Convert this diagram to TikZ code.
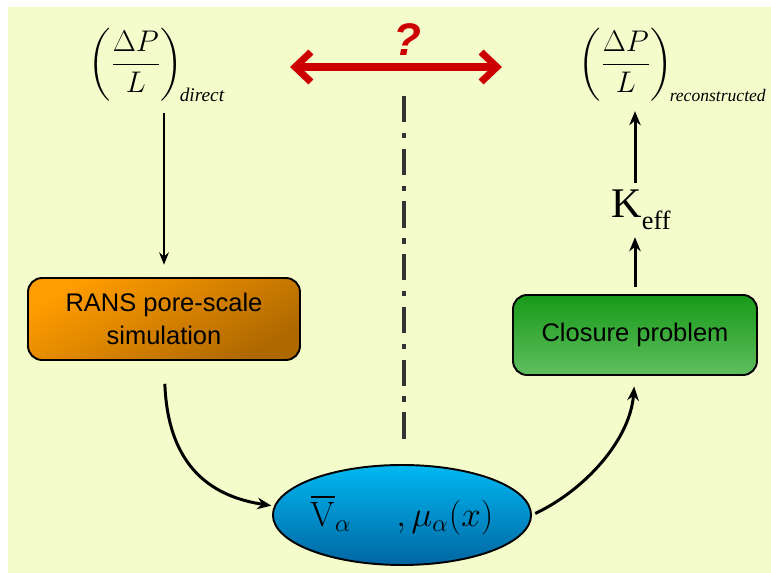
\RequirePackage{fix-cm}
\documentclass[tikz,border=0pt]{standalone}
\usepackage{amsmath}
\usepackage{fontspec}
\setsansfont{Liberation Sans}
\newfontfamily\timesfont{Liberation Serif}
\usetikzlibrary{positioning,shapes.geometric,arrows.meta}

\definecolor{paper}{HTML}{F4FCCC}
\definecolor{ransTop}{HTML}{FF9C00}
\definecolor{ransBot}{HTML}{AE6800}
\definecolor{closTop}{HTML}{179A17}
\definecolor{closBot}{HTML}{60BE60}
\definecolor{flowTop}{HTML}{00B8F2}
\definecolor{flowBot}{HTML}{0066A2}
\definecolor{qred}{HTML}{CC0000}
\definecolor{axisgray}{HTML}{333333}

\tikzset{
  stepbox/.style={draw=black, line width=1.1pt, rounded corners=8pt, inner sep=0pt,
    font=\sffamily\fontsize{14.5}{18.5}\selectfont, align=center},
  flowarrow/.style={-{Stealth[length=8pt,width=6.5pt]}, line width=1.7pt},
  thinarrow/.style={-{Stealth[length=7pt,width=5.5pt]}, line width=1.2pt},
}

\begin{document}
\begin{tikzpicture}[x=0.02cm, y=-0.02cm]
  \useasboundingbox (0,0) rectangle (771,573);
  \fill[paper] (8,7) rectangle (771,573);

  % pressure drop, direct and reconstructed
  \node[anchor=west, inner sep=0pt] (dpdirect) at (88,65)
    {\fontsize{17}{17}\selectfont$\left(\dfrac{\Delta P}{L}\right)_{\!\mbox{\fontsize{11}{11}\selectfont\timesfont\itshape direct}}$};
  \node[anchor=west, inner sep=0pt] (dprecon) at (578,65)
    {\fontsize{17}{17}\selectfont$\left(\dfrac{\Delta P}{L}\right)_{\!\mbox{\fontsize{10}{10}\selectfont\timesfont\itshape reconstructed}}$};

  % comparison
  \node[text=qred, font=\sffamily\bfseries\itshape\fontsize{26}{26}\selectfont] (qmark) at (407,40) {?};
  \coordinate (qleft)  at (290,67);
  \coordinate (qright) at (502,67);
  \draw[qred, line width=4pt, {Straight Barb[length=9pt,width=17pt]}-{Straight Barb[length=9pt,width=17pt]}]
    (qleft) -- (qright);
  \coordinate (axtop) at (404,96);
  \coordinate (axbot) at (404,440);
  \draw[axisgray, line width=2.8pt, dash pattern=on 15pt off 6pt on 3pt off 6pt] (axtop) -- (axbot);

  % boxes
  \node[stepbox, top color=ransTop, bottom color=ransBot, shading angle=30,
        minimum width=5.44cm, minimum height=1.64cm] (rans) at (164,319)
    {RANS pore-scale\\simulation};
  \node[stepbox, top color=closTop, bottom color=closBot,
        minimum width=4.88cm, minimum height=1.6cm] (closure) at (635,335)
    {Closure problem};
  \node[ellipse, draw=black, line width=1.1pt, top color=flowTop, bottom color=flowBot,
        minimum width=4.98cm, minimum height=2cm, inner sep=0pt] (flow) at (402,515)
    {\fontsize{20}{20}\selectfont$\overline{\mathrm{V}}_{\alpha}\quad\;{,}\,\mu_{\alpha}(x)$};
  \node[inner sep=0pt] (keff) at (641,210)
    {\timesfont\fontsize{24}{24}\selectfont K\raisebox{-0.28em}{\fontsize{15}{15}\selectfont eff}};

  % connectors
  \draw[thinarrow, shorten <=6pt, shorten >=7pt] (dpdirect.south -| rans.north) -- (rans.north);
  \draw[flowarrow, shorten <=13pt, shorten >=1.5pt] (rans.south)
    .. controls (168,470) and (215,497) .. (flow.176);
  \draw[flowarrow, shorten <=2pt, shorten >=6pt] (flow.east)
    .. controls (585,490) and (630,440) .. (closure.south);
  \draw[flowarrow, shorten <=4pt, shorten >=4pt] (closure.north) -- (closure.north |- keff.south);
  \draw[flowarrow, shorten <=4pt, shorten >=5pt] (keff.north -| closure.north) -- (dprecon.south -| closure.north);
\end{tikzpicture}
\end{document}
